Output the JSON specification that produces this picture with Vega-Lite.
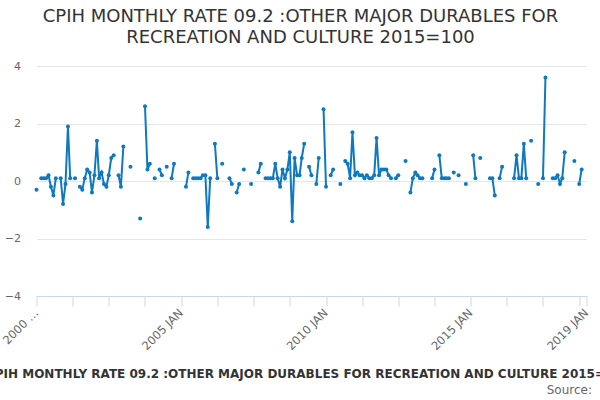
{
"$schema":"https://vega.github.io/schema/vega-lite/v6.json",
"width":550,"height":230,
"autosize":"none",
"padding":{"left":36.5,"top":66,"right":13.5,"bottom":104},
"background":"white",
"config":{"font":"DejaVu Sans","view":{"stroke":null}},
"title":{"text":["CPIH MONTHLY RATE 09.2 :OTHER MAJOR DURABLES FOR","RECREATION AND CULTURE 2015=100"],"fontSize":18,"fontWeight":"normal","color":"#333333","anchor":"middle","dx":-11,"offset":13,"lineHeight":21},
"data":{"values":[
{"date":"2000-01-01","value":-0.3},{"date":"2000-02-01","value":null},{"date":"2000-03-01","value":0.1},{"date":"2000-04-01","value":0.1},{"date":"2000-05-01","value":0.1},{"date":"2000-06-01","value":0.2},{"date":"2000-07-01","value":-0.2},{"date":"2000-08-01","value":-0.5},{"date":"2000-09-01","value":0.1},{"date":"2000-10-01","value":null},{"date":"2000-11-01","value":0.1},{"date":"2000-12-01","value":-0.8},
{"date":"2001-01-01","value":-0.1},{"date":"2001-02-01","value":1.9},{"date":"2001-03-01","value":0.1},{"date":"2001-04-01","value":null},{"date":"2001-05-01","value":0.1},{"date":"2001-06-01","value":null},{"date":"2001-07-01","value":-0.2},{"date":"2001-08-01","value":-0.3},{"date":"2001-09-01","value":0.1},{"date":"2001-10-01","value":0.4},{"date":"2001-11-01","value":0.3},{"date":"2001-12-01","value":-0.4},
{"date":"2002-01-01","value":0.2},{"date":"2002-02-01","value":1.4},{"date":"2002-03-01","value":0.1},{"date":"2002-04-01","value":0.3},{"date":"2002-05-01","value":-0.1},{"date":"2002-06-01","value":-0.2},{"date":"2002-07-01","value":0.2},{"date":"2002-08-01","value":0.8},{"date":"2002-09-01","value":0.9},{"date":"2002-10-01","value":null},{"date":"2002-11-01","value":0.2},{"date":"2002-12-01","value":-0.2},
{"date":"2003-01-01","value":1.2},{"date":"2003-02-01","value":null},{"date":"2003-03-01","value":null},{"date":"2003-04-01","value":0.5},{"date":"2003-05-01","value":null},{"date":"2003-06-01","value":null},{"date":"2003-07-01","value":null},{"date":"2003-08-01","value":-1.3},{"date":"2003-09-01","value":null},{"date":"2003-10-01","value":2.6},{"date":"2003-11-01","value":0.4},{"date":"2003-12-01","value":0.6},
{"date":"2004-01-01","value":null},{"date":"2004-02-01","value":0.1},{"date":"2004-03-01","value":null},{"date":"2004-04-01","value":0.4},{"date":"2004-05-01","value":0.2},{"date":"2004-06-01","value":null},{"date":"2004-07-01","value":0.5},{"date":"2004-08-01","value":null},{"date":"2004-09-01","value":0.1},{"date":"2004-10-01","value":0.6},{"date":"2004-11-01","value":null},{"date":"2004-12-01","value":null},
{"date":"2005-01-01","value":null},{"date":"2005-02-01","value":null},{"date":"2005-03-01","value":-0.2},{"date":"2005-04-01","value":0.3},{"date":"2005-05-01","value":null},{"date":"2005-06-01","value":0.1},{"date":"2005-07-01","value":0.1},{"date":"2005-08-01","value":0.1},{"date":"2005-09-01","value":0.1},{"date":"2005-10-01","value":0.2},{"date":"2005-11-01","value":0.2},{"date":"2005-12-01","value":-1.6},
{"date":"2006-01-01","value":0.1},{"date":"2006-02-01","value":null},{"date":"2006-03-01","value":1.3},{"date":"2006-04-01","value":0.1},{"date":"2006-05-01","value":null},{"date":"2006-06-01","value":0.6},{"date":"2006-07-01","value":null},{"date":"2006-08-01","value":null},{"date":"2006-09-01","value":0.1},{"date":"2006-10-01","value":-0.1},{"date":"2006-11-01","value":null},{"date":"2006-12-01","value":-0.4},
{"date":"2007-01-01","value":-0.1},{"date":"2007-02-01","value":null},{"date":"2007-03-01","value":0.4},{"date":"2007-04-01","value":null},{"date":"2007-05-01","value":null},{"date":"2007-06-01","value":-0.1},{"date":"2007-07-01","value":null},{"date":"2007-08-01","value":null},{"date":"2007-09-01","value":0.3},{"date":"2007-10-01","value":0.6},{"date":"2007-11-01","value":null},{"date":"2007-12-01","value":0.1},
{"date":"2008-01-01","value":0.1},{"date":"2008-02-01","value":0.1},{"date":"2008-03-01","value":0.1},{"date":"2008-04-01","value":0.6},{"date":"2008-05-01","value":0.1},{"date":"2008-06-01","value":-0.2},{"date":"2008-07-01","value":0.4},{"date":"2008-08-01","value":0.1},{"date":"2008-09-01","value":0.4},{"date":"2008-10-01","value":1.0},{"date":"2008-11-01","value":-1.4},{"date":"2008-12-01","value":0.8},
{"date":"2009-01-01","value":0.2},{"date":"2009-02-01","value":0.2},{"date":"2009-03-01","value":0.8},{"date":"2009-04-01","value":1.3},{"date":"2009-05-01","value":null},{"date":"2009-06-01","value":0.5},{"date":"2009-07-01","value":0.2},{"date":"2009-08-01","value":null},{"date":"2009-09-01","value":-0.1},{"date":"2009-10-01","value":0.8},{"date":"2009-11-01","value":null},{"date":"2009-12-01","value":2.5},
{"date":"2010-01-01","value":-0.2},{"date":"2010-02-01","value":null},{"date":"2010-03-01","value":0.2},{"date":"2010-04-01","value":0.4},{"date":"2010-05-01","value":null},{"date":"2010-06-01","value":null},{"date":"2010-07-01","value":-0.1},{"date":"2010-08-01","value":null},{"date":"2010-09-01","value":0.7},{"date":"2010-10-01","value":0.6},{"date":"2010-11-01","value":0.1},{"date":"2010-12-01","value":1.7},
{"date":"2011-01-01","value":0.2},{"date":"2011-02-01","value":0.3},{"date":"2011-03-01","value":0.2},{"date":"2011-04-01","value":0.2},{"date":"2011-05-01","value":0.1},{"date":"2011-06-01","value":0.2},{"date":"2011-07-01","value":0.1},{"date":"2011-08-01","value":0.1},{"date":"2011-09-01","value":0.2},{"date":"2011-10-01","value":1.5},{"date":"2011-11-01","value":0.2},{"date":"2011-12-01","value":0.4},
{"date":"2012-01-01","value":0.4},{"date":"2012-02-01","value":0.4},{"date":"2012-03-01","value":0.2},{"date":"2012-04-01","value":0.1},{"date":"2012-05-01","value":null},{"date":"2012-06-01","value":0.1},{"date":"2012-07-01","value":0.2},{"date":"2012-08-01","value":null},{"date":"2012-09-01","value":null},{"date":"2012-10-01","value":0.7},{"date":"2012-11-01","value":null},{"date":"2012-12-01","value":-0.4},
{"date":"2013-01-01","value":0.1},{"date":"2013-02-01","value":0.3},{"date":"2013-03-01","value":0.2},{"date":"2013-04-01","value":0.1},{"date":"2013-05-01","value":0.1},{"date":"2013-06-01","value":null},{"date":"2013-07-01","value":null},{"date":"2013-08-01","value":null},{"date":"2013-09-01","value":0.1},{"date":"2013-10-01","value":0.4},{"date":"2013-11-01","value":null},{"date":"2013-12-01","value":0.9},
{"date":"2014-01-01","value":0.1},{"date":"2014-02-01","value":0.1},{"date":"2014-03-01","value":0.1},{"date":"2014-04-01","value":0.1},{"date":"2014-05-01","value":null},{"date":"2014-06-01","value":0.3},{"date":"2014-07-01","value":null},{"date":"2014-08-01","value":0.2},{"date":"2014-09-01","value":null},{"date":"2014-10-01","value":null},{"date":"2014-11-01","value":-0.1},{"date":"2014-12-01","value":null},
{"date":"2015-01-01","value":null},{"date":"2015-02-01","value":0.9},{"date":"2015-03-01","value":0.1},{"date":"2015-04-01","value":null},{"date":"2015-05-01","value":0.8},{"date":"2015-06-01","value":null},{"date":"2015-07-01","value":null},{"date":"2015-08-01","value":null},{"date":"2015-09-01","value":0.1},{"date":"2015-10-01","value":0.1},{"date":"2015-11-01","value":-0.5},{"date":"2015-12-01","value":null},
{"date":"2016-01-01","value":0.1},{"date":"2016-02-01","value":0.5},{"date":"2016-03-01","value":null},{"date":"2016-04-01","value":null},{"date":"2016-05-01","value":null},{"date":"2016-06-01","value":null},{"date":"2016-07-01","value":0.1},{"date":"2016-08-01","value":0.9},{"date":"2016-09-01","value":0.1},{"date":"2016-10-01","value":0.1},{"date":"2016-11-01","value":1.3},{"date":"2016-12-01","value":0.1},
{"date":"2017-01-01","value":null},{"date":"2017-02-01","value":1.4},{"date":"2017-03-01","value":null},{"date":"2017-04-01","value":null},{"date":"2017-05-01","value":-0.1},{"date":"2017-06-01","value":null},{"date":"2017-07-01","value":0.1},{"date":"2017-08-01","value":3.6},{"date":"2017-09-01","value":null},{"date":"2017-10-01","value":null},{"date":"2017-11-01","value":0.1},{"date":"2017-12-01","value":0.1},
{"date":"2018-01-01","value":0.2},{"date":"2018-02-01","value":-0.1},{"date":"2018-03-01","value":0.1},{"date":"2018-04-01","value":1.0},{"date":"2018-05-01","value":null},{"date":"2018-06-01","value":null},{"date":"2018-07-01","value":null},{"date":"2018-08-01","value":0.7},{"date":"2018-09-01","value":null},{"date":"2018-10-01","value":-0.1},{"date":"2018-11-01","value":0.4},{"date":"2018-12-01","value":null},
{"date":"2019-01-01","value":null}
]},
"encoding":{
"x":{"field":"date","type":"temporal","scale":{"type":"utc","domain":[{"year":2000,"month":1,"date":1,"utc":true},{"year":2019,"month":1,"date":1,"utc":true}]},
"title":"CPIH MONTHLY RATE 09.2 :OTHER MAJOR DURABLES FOR RECREATION AND CULTURE 2015=100",
"axis":{"values":[{"year":2000,"month":1,"date":1,"utc":true},{"year":2001,"month":4,"date":1,"utc":true},{"year":2002,"month":7,"date":1,"utc":true},{"year":2003,"month":10,"date":1,"utc":true},{"year":2005,"month":1,"date":1,"utc":true},{"year":2006,"month":4,"date":1,"utc":true},{"year":2007,"month":7,"date":1,"utc":true},{"year":2008,"month":10,"date":1,"utc":true},{"year":2010,"month":1,"date":1,"utc":true},{"year":2011,"month":4,"date":1,"utc":true},{"year":2012,"month":7,"date":1,"utc":true},{"year":2013,"month":10,"date":1,"utc":true},{"year":2015,"month":1,"date":1,"utc":true},{"year":2016,"month":4,"date":1,"utc":true},{"year":2017,"month":7,"date":1,"utc":true},{"year":2018,"month":10,"date":1,"utc":true},{"year":2019,"month":1,"date":1,"utc":true}],
"labelExpr":"utcmonth(datum.value)==0 && utcyear(datum.value)==2000 ? '2000 …' : ((utcmonth(datum.value)==0 && (utcyear(datum.value)%5==0 || utcyear(datum.value)==2019)) ? upper(utcFormat(datum.value,'%Y %b')) : '')",
"labelAngle":-45,"labelAlign":"right","labelBaseline":"middle","labelFontSize":11.5,"labelColor":"#666666","labelPadding":5,"labelOverlap":false,"labelFlush":false,"labelBound":false,
"tickColor":"#ccd6eb","tickSize":10,"domainColor":"#ccd6eb","grid":false,
"titleFontSize":12,"titleFontWeight":"bold","titleColor":"#333333","titleBaseline":"alphabetic","titleY":81,"titleX":271}},
"y":{"field":"value","type":"quantitative","scale":{"domain":[-4,4],"nice":false},
"axis":{"values":[-4,-2,0,2,4],"grid":true,"gridColor":"#e6e6e6","domain":false,"ticks":false,"labelColor":"#666666","labelFontSize":11,"labelPadding":16,
"title":"Source:","titleAngle":0,"titleX":555,"titleY":327.5,"titleAlign":"right","titleBaseline":"alphabetic","titleFontWeight":"normal","titleFontSize":12,"titleColor":"#666666"}}
},
"layer":[
{"mark":{"type":"line","color":"#0d79c0","strokeWidth":2,"invalid":"break-paths-show-domains"}},
{"mark":{"type":"circle","color":"#0d79c0","size":16,"opacity":1}}
]
}
